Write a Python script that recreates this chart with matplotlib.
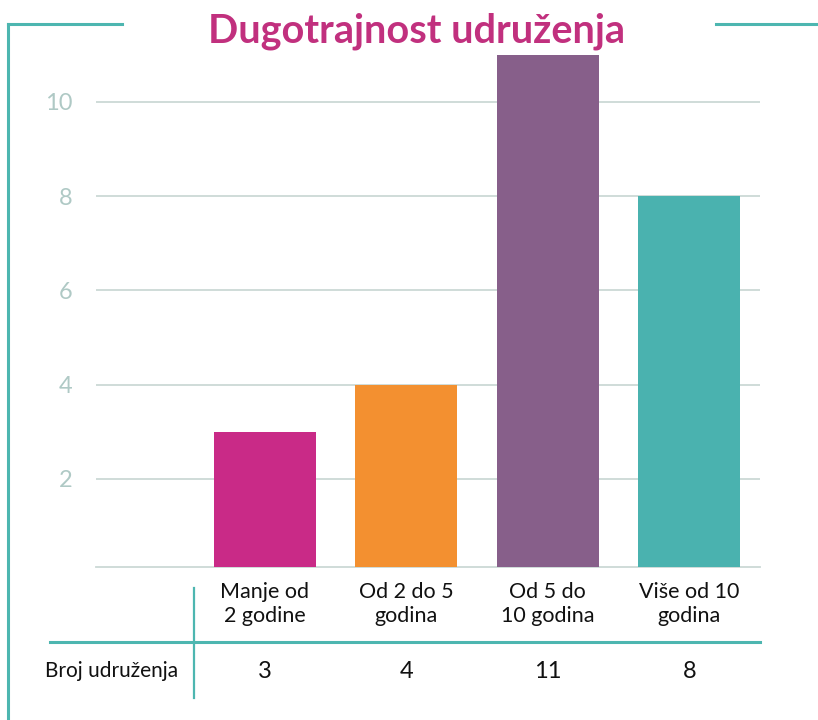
import matplotlib.pyplot as plt
from matplotlib.lines import Line2D
from matplotlib.transforms import blended_transform_factory

# podaci
kategorije = ["Manje od\n2 godine", "Od 2 do 5\ngodina", "Od 5 do\n10 godina", "Više od 10\ngodina"]
broj_udruzenja = [3, 4, 11, 8]
boje = ["#C92A87", "#F39030", "#875F8A", "#4AB2AF"]
y_tikovi = [2, 4, 6, 8, 10]
naslov = "Dugotrajnost udruženja"
red_naziv = "Broj udruženja"

TEAL = "#4DB6B0"
GRID = "#CBD9D6"
TICK = "#AFC9C5"

plt.rcParams["font.family"] = ["Lato", "DejaVu Sans"]

W, H = 818, 720
fig = plt.figure(figsize=(W / 100, H / 100), dpi=100)

def fx(px):
    return px / W

def fy(py):
    return 1 - py / H

# plot area: gridlines from x=96 to 760, baseline at y=567
ymin, ymax = 0.13, 11.3
zero_px, px_per_unit = 573, 47.125
top_px = zero_px - ymax * px_per_unit
ax = fig.add_axes([fx(96), fy(567), fx(760) - fx(96), (567 - top_px) / H])

x = list(range(len(kategorije)))
ax.bar(x, broj_udruzenja, width=0.72, color=boje, zorder=3)

ax.set_xlim(-0.5 - (194 - 96) / 141.5, 3.5)
ax.set_ylim(ymin, ymax)
ax.set_yticks(y_tikovi)
ax.set_yticklabels([str(v) for v in y_tikovi])
ax.tick_params(axis="y", length=0, pad=17, labelsize=17, labelcolor=TICK)
ax.tick_params(axis="x", length=0, labelbottom=False)
ax.grid(axis="y", color=GRID, linewidth=1.3, zorder=0)
for s in ["top", "right", "left"]:
    ax.spines[s].set_visible(False)
ax.spines["bottom"].set_color(GRID)
ax.spines["bottom"].set_linewidth(1.3)

# tablica podataka ispod grafa
trans = blended_transform_factory(ax.transData, fig.transFigure)
for xi, lab, val in zip(x, kategorije, broj_udruzenja):
    ax.text(xi, fy(604), lab, transform=trans, ha="center", va="center",
            fontsize=15.5, color="#111111", linespacing=1.3)
    ax.text(xi, fy(671), str(val), transform=trans, ha="center", va="center",
            fontsize=17, color="#111111")
fig.text(fx(112), fy(671), red_naziv, ha="center", va="center",
         fontsize=15, color="#111111")

fig.add_artist(Line2D([fx(50), fx(760)], [fy(642), fy(642)], color=TEAL, lw=2.2))
fig.add_artist(Line2D([fx(194), fx(194)], [fy(588), fy(698)], color=TEAL, lw=1.6))

# okvir
fig.add_artist(Line2D([fx(8), fx(8)], [fy(24), fy(720)], color=TEAL, lw=2.2))
fig.add_artist(Line2D([fx(8), fx(122)], [fy(24), fy(24)], color=TEAL, lw=2.2))
fig.add_artist(Line2D([fx(716), fx(818)], [fy(24), fy(24)], color=TEAL, lw=2.2))

fig.text(fx(416), fy(31), naslov, ha="center", va="center",
         fontsize=28.5, fontweight="bold", color="#C1307E")

fig.savefig("out.png", dpi=100)
